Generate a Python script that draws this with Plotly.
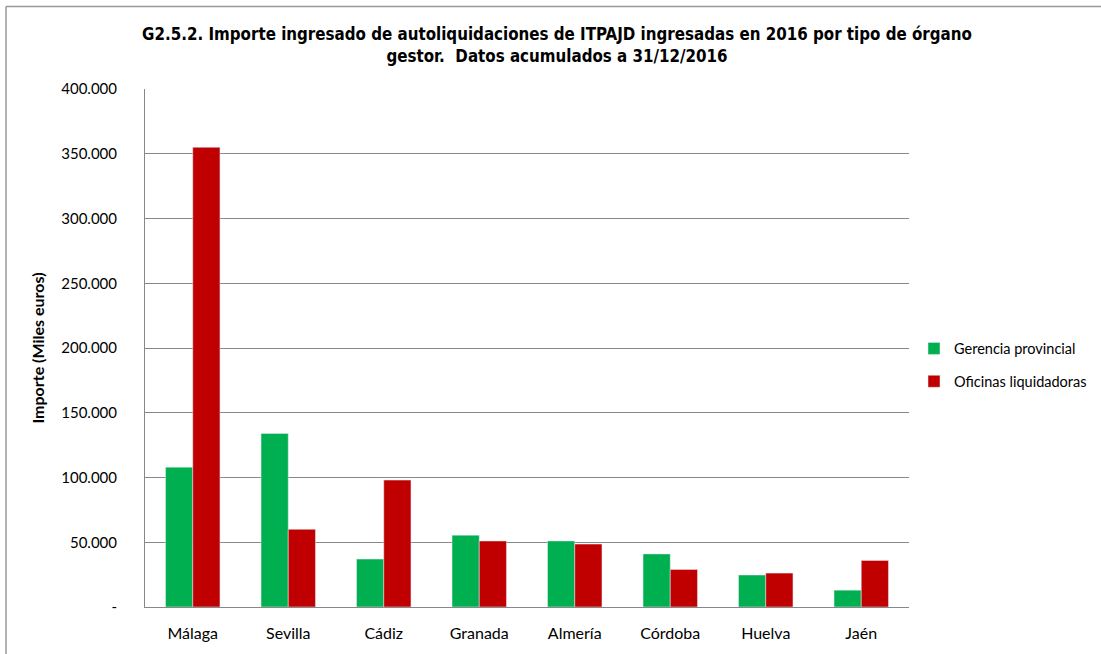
import plotly.graph_objects as go

provincias = ["Málaga", "Sevilla", "Cádiz", "Granada", "Almería", "Córdoba", "Huelva", "Jaén"]
gerencia = [108000, 134000, 37000, 55500, 51000, 41000, 24700, 13000]
oficinas = [355000, 60000, 98000, 51000, 48600, 29000, 26200, 36000]

tick_vals = [0, 50000, 100000, 150000, 200000, 250000, 300000, 350000, 400000]
tick_text = ["-", "50.000", "100.000", "150.000", "200.000", "250.000", "300.000", "350.000", "400.000"]

body_font = "Lato, 'Open Sans', sans-serif"

fig = go.Figure()
fig.add_trace(go.Bar(name="Gerencia provincial", x=provincias, y=gerencia,
                     marker_color="#00B050", legendgroup="g"))
fig.add_trace(go.Bar(name="Oficinas liquidadoras", x=provincias, y=oficinas,
                     marker_color="#C00000", legendgroup="o"))

L, R, T, B = 145, 909, 89, 607
W, H = 1101, 654
pw, ph = R - L, B - T

def px_x(p):
    return (p - L) / pw

def px_y(q):
    return (B - q) / ph

fig.update_layout(
    width=W, height=H,
    margin=dict(l=L, r=W - R, t=T, b=H - B, autoexpand=False),
    paper_bgcolor="white", plot_bgcolor="white",
    barmode="group", bargap=0.43, bargroupgap=0,
    font=dict(family=body_font, size=15, color="#000"),
    title=dict(
        text="G2.5.2. Importe ingresado de autoliquidaciones de ITPAJD ingresadas en 2016 por tipo de órgano<br>gestor.  Datos acumulados a 31/12/2016",
        x=557 / W, xanchor="center", y=1 - 40 / H, yanchor="top",
        font=dict(family="'Liberation Sans Narrow', 'DejaVu Sans Condensed', sans-serif",
                  size=16.8, color="#000", weight="bold"),
    ),
    legend=dict(xref="container", yref="container",
                x=914 / W, y=1 - 365 / H, xanchor="left", yanchor="middle",
                font=dict(family=body_font, size=14.5), tracegroupgap=11,
                itemwidth=30, bgcolor="rgba(0,0,0,0)"),
    xaxis=dict(showgrid=False, showline=True, linecolor="#888", linewidth=1,
               ticks="", tickfont=dict(size=16), ticklabelstandoff=12),
    yaxis=dict(range=[0, 400000], tickvals=tick_vals, ticktext=tick_text,
               showgrid=True, gridcolor="#888", gridwidth=1,
               showline=True, linecolor="#888", linewidth=1, zeroline=False,
               ticks="", tickfont=dict(size=15), ticklabelstandoff=24,
               title=dict(text="<b>Importe (Miles euros)</b>", font=dict(size=16), standoff=12)),
    shapes=[
        dict(type="line", xref="paper", yref="paper", x0=px_x(6), x1=px_x(1101),
             y0=px_y(6.5), y1=px_y(6.5), line=dict(color="#999", width=1.5)),
        dict(type="line", xref="paper", yref="paper", x0=px_x(6), x1=px_x(6),
             y0=px_y(6.5), y1=px_y(654), line=dict(color="#999", width=1.5)),
    ],
)

fig.write_html("out.html")
